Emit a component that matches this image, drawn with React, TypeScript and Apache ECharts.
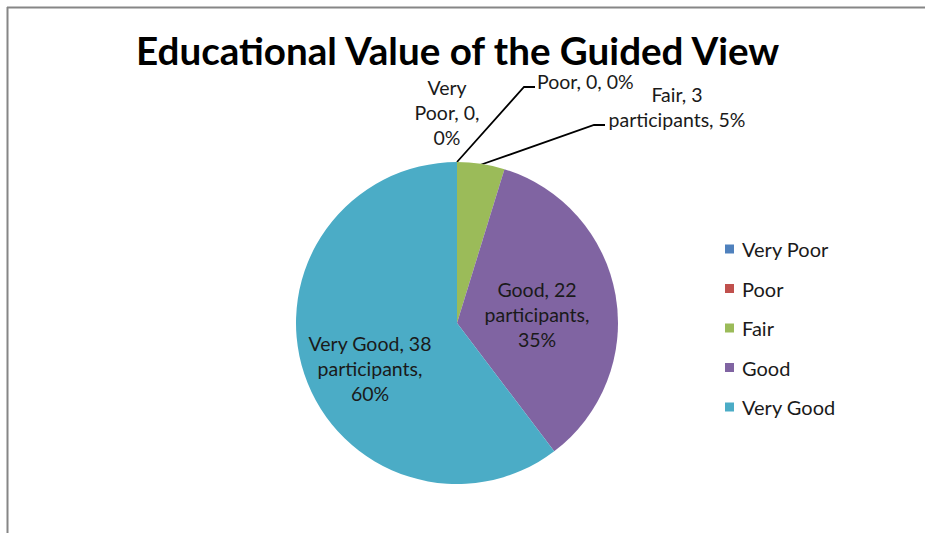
import React, { useEffect, useRef } from "react";
import * as echarts from "echarts";

const TITLE = "Educational Value of the Guided View";
const CATEGORIES = ["Very Poor", "Poor", "Fair", "Good", "Very Good"];
const VALUES = [0, 0, 3, 22, 38];
const LABEL_TEXTS = [
  "Very\nPoor, 0,\n0%",
  "Poor, 0, 0%",
  "Fair, 3\nparticipants, 5%",
  "Good, 22\nparticipants,\n35%",
  "Very Good, 38\nparticipants,\n60%",
];
const COLORS = ["#4F81BD", "#C0504D", "#9BBB59", "#8064A2", "#4BACC6"];

const FONT = "Lato, 'Open Sans', sans-serif";

// label placement (styling only)
const LABEL_POS: { x: number; y: number; align: string; line?: number[][] }[] = [
  { x: 447, y: 112, align: "center" },
  { x: 537, y: 81, align: "left", line: [[457, 162], [524, 87], [535, 87]] },
  { x: 677, y: 107, align: "center", line: [[480, 165], [594, 125], [605, 125]] },
  { x: 537, y: 314, align: "center" },
  { x: 370, y: 368, align: "center" },
];

export default function App() {
  const ref = useRef<HTMLDivElement>(null);
  useEffect(() => {
    if (!ref.current) return;
    const chart = echarts.init(ref.current, undefined, { renderer: "svg" });
    chart.setOption({
      animation: false,
      backgroundColor: "#ffffff",
      title: {
        text: TITLE,
        left: 136,
        top: 33,
        padding: 0,
        textStyle: { fontFamily: FONT, fontWeight: "bold", fontSize: 38.6, lineHeight: 33, color: "#000" },
      },
      legend: {
        orient: "vertical",
        left: 720,
        top: 234,
        itemWidth: 9,
        itemHeight: 9,
        itemGap: 19.5,
        icon: "rect",
        data: CATEGORIES,
        textStyle: { fontFamily: FONT, fontSize: 20, color: "#1a1a1a", padding: [0, 0, 0, 3] },
      },
      graphic: [
        { type: "line", shape: { x1: 7, y1: 7.5, x2: 925, y2: 7.5 }, style: { stroke: "#868686", lineWidth: 2 } },
        { type: "line", shape: { x1: 7.5, y1: 7, x2: 7.5, y2: 533 }, style: { stroke: "#868686", lineWidth: 2 } },
      ],
      series: [
        {
          type: "pie",
          center: [457, 323],
          radius: 161,
          startAngle: 90,
          clockwise: true,
          avoidLabelOverlap: false,
          minShowLabelAngle: 0,
          label: {
            show: true,
            position: "outside",
            fontFamily: FONT,
            fontSize: 19.5,
            lineHeight: 25,
            color: "#1a1a1a",
            formatter: (p: any) => LABEL_TEXTS[p.dataIndex],
          },
          labelLine: { show: true, lineStyle: { color: "#000", width: 1.8 }, smooth: false },
          labelLayout: (p: any) => {
            const l = LABEL_POS[p.dataIndex];
            const res: any = {
              x: l.x,
              y: l.y,
              align: l.align,
              verticalAlign: "middle",
            };
            if (l.line) res.labelLinePoints = l.line;
            return res;
          },
          data: CATEGORIES.map((c, i) => ({
            name: c,
            value: VALUES[i],
            itemStyle: { color: COLORS[i] },
            labelLine: { show: !!LABEL_POS[i].line },
          })),
        },
      ],
    });
    return () => chart.dispose();
  }, []);
  return (
    <div
      ref={ref}
      style={{ position: "fixed", left: 0, top: 0, width: 925, height: 533, background: "#fff" }}
    />
  );
}
